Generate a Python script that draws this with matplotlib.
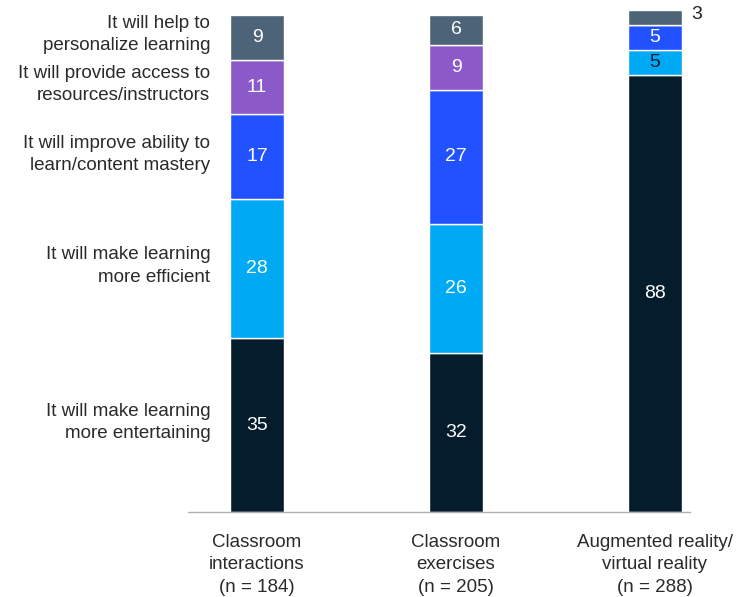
import numpy as np
import matplotlib.pyplot as plt

plt.rcParams['font.family'] = ['Liberation Sans', 'DejaVu Sans']

categories = ['Classroom\ninteractions\n(n = 184)', 'Classroom\nexercises\n(n = 205)',
              'Augmented reality/\nvirtual reality\n(n = 288)']
series = ['It will make learning\nmore entertaining', 'It will make learning\nmore efficient',
          'It will improve ability to\nlearn/content mastery',
          'It will provide access to\nresources/instructors', 'It will help to\npersonalize learning']
entertaining = [35, 32, 88]
efficient = [28, 26, 5]
mastery = [17, 27, 5]
access = [11, 9, 0]
personalize = [9, 6, 3]

values = [entertaining, efficient, mastery, access, personalize]
colors = ['#051c2c', '#00a9f4', '#2251ff', '#8c5ac8', '#4d6478']

fig = plt.figure(figsize=(7.38, 5.97), dpi=100)
ax = fig.add_axes([188 / 738, 85 / 597, 502 / 738, 497 / 597])

x = np.arange(len(categories))
width = 0.27
bottom = np.zeros(len(categories))
for vals, col in zip(values, colors):
    vals = np.array(vals, dtype=float)
    ax.bar(x, vals, width, bottom=bottom, color=col, edgecolor='white', linewidth=1, clip_on=False)
    for i, v in enumerate(vals):
        if v <= 0:
            continue
        if v < 4:
            ax.text(x[i] + width / 2 + 0.045, bottom[i] + v / 2 + 0.6, str(int(v)), ha='left', va='center',
                    fontsize=14, color='#222222')
        else:
            c = 'white'
            if col == '#00a9f4' and v < 10:
                c = '#051c2c'
            ax.text(x[i], bottom[i] + v / 2, str(int(v)), ha='center', va='center', fontsize=14, color=c)
    bottom += vals

# series labels beside the first bar
cum = np.cumsum([v[0] for v in values])
starts = cum - np.array([v[0] for v in values])
for lab, s, c in zip(series, starts, cum):
    ax.text(-0.235, (s + c) / 2 + 0.5, lab, ha='right', va='center', fontsize=13.5, color='#2a2a2a',
            linespacing=1.4)

ax.set_xlim(-0.347, 2.176)
ax.set_ylim(0, 100)
for sp in ['top', 'right', 'left']:
    ax.spines[sp].set_visible(False)
ax.spines['bottom'].set_color('#b0b0b0')
ax.spines['bottom'].set_linewidth(1)
ax.set_yticks([])
ax.set_xticks(x)
ax.set_xticklabels(categories, fontsize=13.5, color='#2a2a2a', linespacing=1.4)
ax.tick_params(axis='x', length=0, pad=16)

fig.savefig('out.png', dpi=100)
